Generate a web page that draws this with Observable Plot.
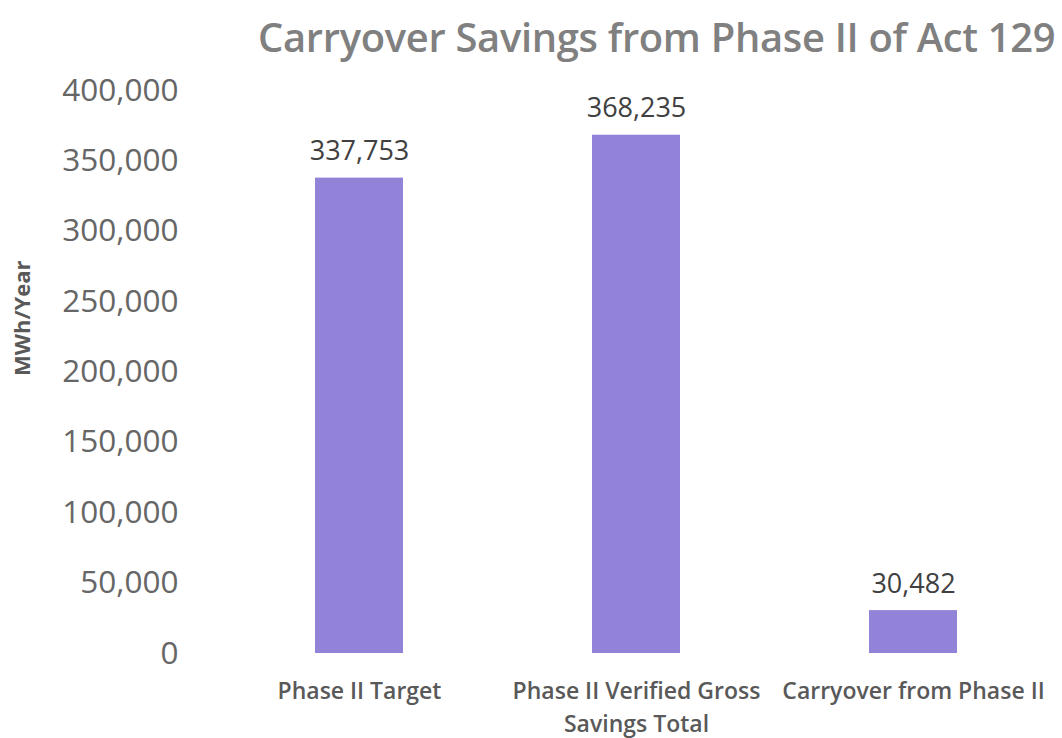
<!DOCTYPE html>
<html>
<head>
<meta charset="utf-8">
<script src="https://cdn.jsdelivr.net/npm/d3@7"></script>
<script src="https://cdn.jsdelivr.net/npm/@observablehq/plot@0.6"></script>
<style>
  body { margin: 0; background: #fff; width: 1062px; height: 738px; overflow: hidden; position: relative; }
  #title { position: absolute; top: 13px; left: 258px; z-index: 2;
    font-family: "Open Sans", sans-serif; font-size: 39.9px; font-weight: 600; color: #808080;
    white-space: nowrap; letter-spacing: -0.3px; line-height: 1.2; }
  #chart svg { display: block; }
</style>
</head>
<body>
<div id="title">Carryover Savings from Phase II of Act 129</div>
<div id="chart"></div>
<script>
const categories = ["Phase II Target", "Phase II Verified Gross\nSavings Total", "Carryover from Phase II"];
const values = [337753, 368235, 30482];
const yTicks = [0, 50000, 100000, 150000, 200000, 250000, 300000, 350000, 400000];
const yLabel = "MWh/Year";
const barColor = "#9283d8";

const data = categories.map((c, i) => ({category: c, value: values[i]}));
const fmt = d3.format(",");

const chart = Plot.plot({
  width: 1062,
  height: 738,
  marginLeft: 219,
  marginRight: 10,
  marginTop: 90,
  marginBottom: 85,
  style: {fontFamily: "'Open Sans', sans-serif", background: "transparent"},
  x: {domain: categories, paddingInner: 0.683, paddingOuter: 0.342, label: null},
  y: {domain: [0, 400000], label: null},
  marks: [
    Plot.axisY({ticks: yTicks, tickSize: 0, tickPadding: 41, tickFormat: fmt, fontSize: 31.5, color: "#666", label: null}),
    Plot.axisX({tickSize: 0, tickPadding: 23, fontSize: 23, fontWeight: 600, color: "#595959", lineHeight: 1.4, label: null}),
    Plot.barY(data, {x: "category", y: "value", fill: barColor}),
    Plot.text(data, {x: "category", y: "value", text: d => fmt(d.value), lineAnchor: "bottom", dy: -18, fontSize: 27, fill: "#404040"}),
    Plot.text([yLabel], {frameAnchor: "left", rotate: -90, dx: -197, dy: 4, fontSize: 22, fontWeight: 700, fill: "#595959"})
  ]
});
document.getElementById("chart").appendChild(chart);
</script>
</body>
</html>
